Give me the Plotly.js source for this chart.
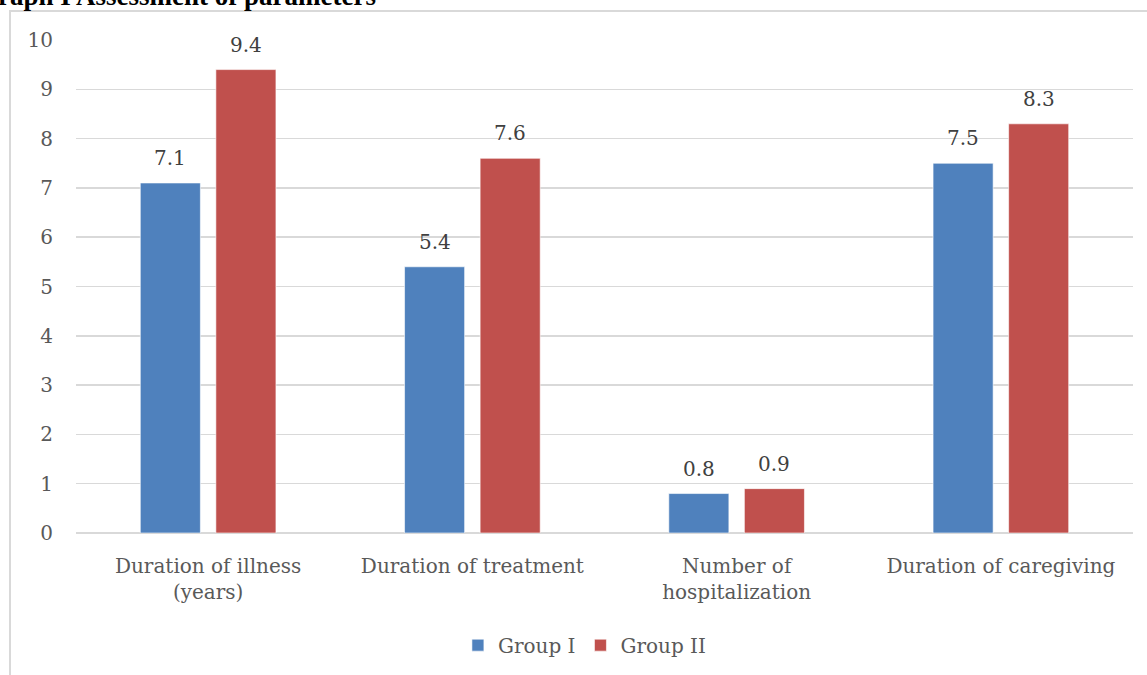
<!DOCTYPE html>
<html>
<head>
<meta charset="utf-8">
<script src="https://cdn.plot.ly/plotly-3.0.1.min.js"></script>
<style>
  html, body { margin: 0; padding: 0; background: #ffffff; }
  #wrap { position: relative; width: 1147px; height: 675px; overflow: hidden; }
  #frame { position: absolute; left: 9px; top: 10px; width: 1200px; height: 700px;
           border-left: 2px solid #d9d9d9; border-top: 2px solid #d9d9d9; box-sizing: border-box; }
  #chart { position: absolute; left: 0; top: 0; width: 1147px; height: 675px; }
</style>
</head>
<body>
<div id="wrap">
  <div id="frame"></div>
  <div id="chart"></div>
</div>
<script>
const categories = ["Duration of illness<br>(years)", "Duration of treatment", "Number of<br>hospitalization", "Duration of caregiving"];
const groupI = [7.1, 5.4, 0.8, 7.5];
const groupII = [9.4, 7.6, 0.9, 8.3];
const seriesNames = ["Group I", "Group II"];
const yTicks = [0, 1, 2, 3, 4, 5, 6, 7, 8, 9, 10];
const titleText = "Graph I Assessment of parameters";

const FONT = "DejaVu Serif, serif";
const TFONT = "Liberation Serif, Times New Roman, serif";
const TXT = "#595959";
const colors = ["#4F81BD", "#C0504D"];

const traces = [groupI, groupII].map((vals, i) => ({
  type: "bar",
  name: seriesNames[i],
  x: categories,
  y: vals,
  marker: { color: colors[i], line: { color: "rgba(255,255,255,0.6)", width: 1 } },
  hoverinfo: "skip"
}));

const annotations = [];
[groupI, groupII].forEach((vals, i) => {
  vals.forEach((v, j) => {
    annotations.push({
      x: categories[j], y: v, xref: "x", yref: "y",
      text: v.toFixed(1), showarrow: false,
      xanchor: "center", yanchor: "bottom",
      xshift: i === 0 ? -37.75 : 37.75, yshift: 11,
      font: { family: FONT, size: 20, color: "#404040" }
    });
  });
});
annotations.push({
  xref: "paper", yref: "paper", x: 0.2857, y: 1.0547,
  xanchor: "right", yanchor: "bottom",
  text: "<b>" + titleText + "</b>", showarrow: false,
  font: { family: TFONT, size: 27, color: "#000000" }
});

const layout = {
  width: 1147, height: 675,
  margin: { l: 76, r: 14, t: 40, b: 141, pad: 0 },
  paper_bgcolor: "rgba(0,0,0,0)",
  plot_bgcolor: "rgba(0,0,0,0)",
  barmode: "group",
  bargap: 0.428,
  bargroupgap: 0.205,
  showlegend: true,
  legend: {
    orientation: "h", x: 0.481, xanchor: "center", y: -0.225, yanchor: "middle",
    font: { family: FONT, size: 20, color: TXT },
    itemwidth: 30, traceorder: "normal"
  },
  xaxis: {
    type: "category",
    showgrid: false, zeroline: false, showline: false, ticks: "",
    tickfont: { family: FONT, size: 20, color: TXT },
    ticklabelstandoff: 19
  },
  yaxis: {
    range: [0, 10], tickvals: yTicks, ticktext: yTicks.map(String),
    showgrid: true, gridcolor: "#d9d9d9", gridwidth: 1.5,
    zeroline: true, zerolinecolor: "#d9d9d9", zerolinewidth: 1.5,
    showline: false, ticks: "",
    tickfont: { family: FONT, size: 20, color: TXT },
    ticklabelstandoff: 22
  },
  annotations: annotations
};

Plotly.newPlot("chart", traces, layout, { displayModeBar: false, staticPlot: true });
</script>
</body>
</html>
